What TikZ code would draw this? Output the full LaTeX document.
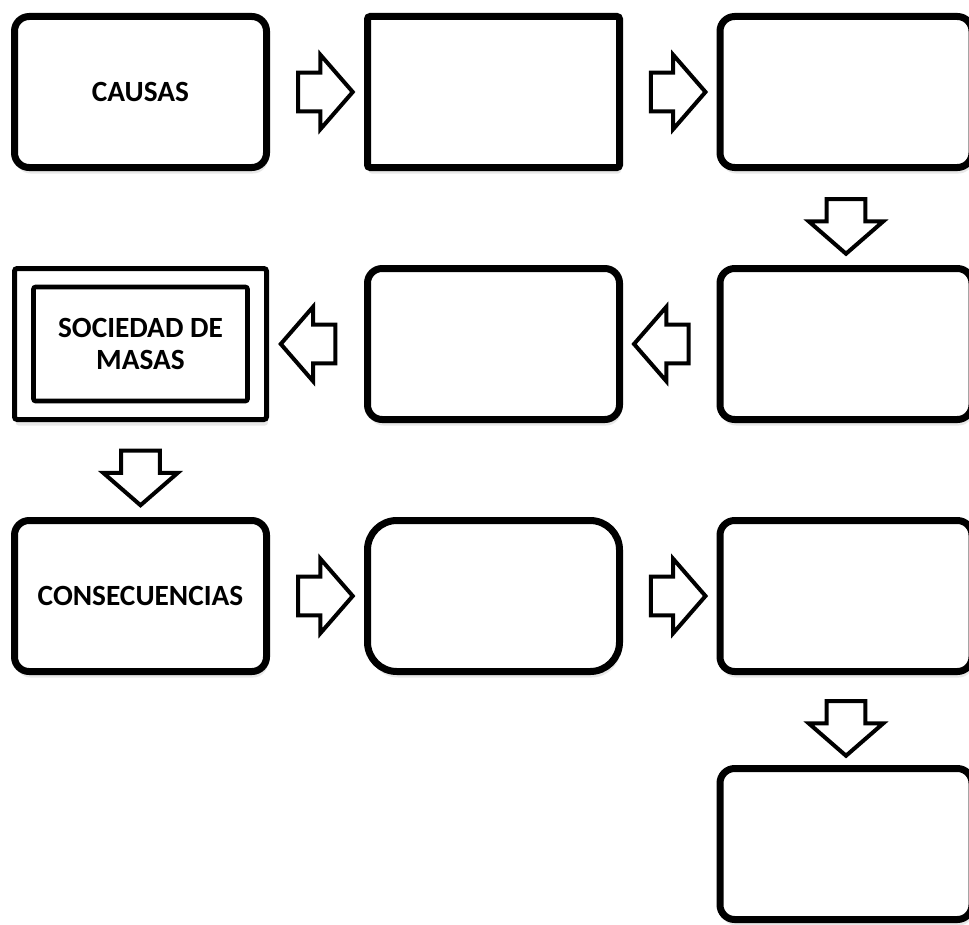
\documentclass[tikz,border=0pt]{standalone}
\usepackage{fontspec}
\setmainfont{Carlito}
\usetikzlibrary{shapes.arrows,shadows}

\tikzset{every picture/.style={line width=0.75pt}}
\tikzset{
  caja/.style={draw, fill=white, line width=5.25pt, rounded corners=11pt,
    minimum width=189pt, minimum height=113.25pt, inner sep=0pt, align=center,
    font=\fontsize{22}{24}\selectfont\bfseries,
    drop shadow={opacity=0.18, shadow xshift=1pt, shadow yshift=-4.5pt}},
  flecha/.style={draw, fill=white, single arrow, line width=3pt,
    minimum height=41pt, single arrow head extend=13.5pt,
    single arrow tip angle=98, inner xsep=0pt, inner ysep=13pt}
}

\begin{document}
\begin{tikzpicture}[x=0.75pt,y=0.75pt,yscale=-1,xscale=1]
    \useasboundingbox (0,0) rectangle (969,924);

    % Row 1
    \node [caja] (causas) at (140.5,92) {CAUSAS};
    \node [caja, rounded corners=2pt] (c12) at (493.5,92) {};
    \node [caja] (c13) at (846,92) {};

    % Row 2
    \node [caja] (c23) at (846,344) {};
    \node [caja] (c22) at (493.5,344) {};
    %Shape: double frame
    \node [caja, rounded corners=2pt, line width=3.75pt] (sociedad) at (140.5,344) {};
    \node [draw, line width=3.4pt, rounded corners=1.5pt, minimum width=160.5pt,
      minimum height=85.5pt, align=center, font=\fontsize{22}{23.5}\selectfont\bfseries]
      (sociedadin) at (sociedad) {SOCIEDAD DE\\MASAS};

    % Row 3
    \node [caja] (consec) at (140.5,596) {CONSECUENCIAS};
    \node [caja, rounded corners=22pt] (c32) at (493.5,596) {};
    \node [caja] (c33) at (846,596) {};

    % Row 4
    \node [caja] (c43) at (846,844) {};

    % Arrows
    \path (causas) -- node [flecha] {} (c12);
    \path (c12) -- node [flecha] {} (c13);
    \path (c13) -- node [flecha, rotate=-90] {} (c23);
    \path (c23) -- node [flecha, rotate=180] {} (c22);
    \path (c22) -- node [flecha, rotate=180] {} (sociedad);
    \path (sociedad) -- node [flecha, rotate=-90] {} (consec);
    \path (consec) -- node [flecha] {} (c32);
    \path (c32) -- node [flecha] {} (c33);
    \path (c33) -- node [flecha, rotate=-90] {} (c43);

\end{tikzpicture}
\end{document}
